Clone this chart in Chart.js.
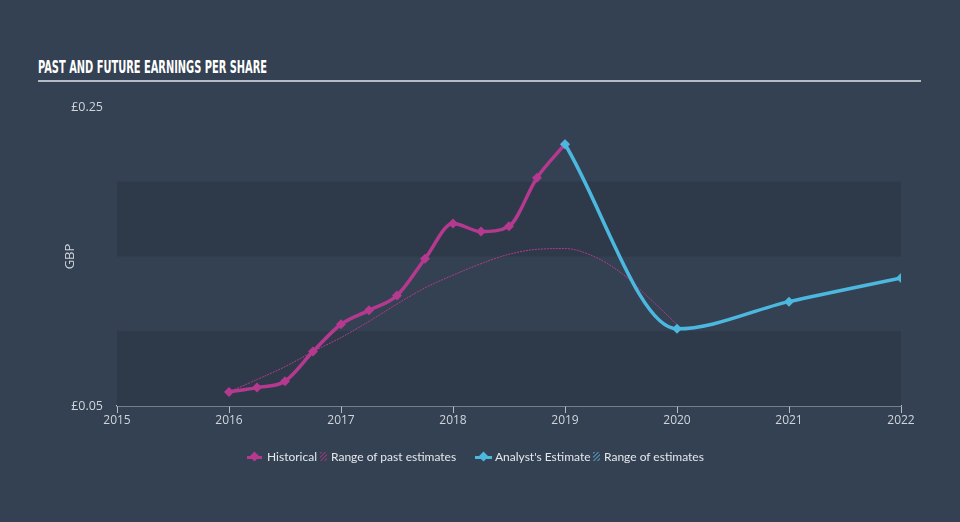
<!DOCTYPE html>
<html>
<head>
<meta charset="utf-8">
<script src="https://cdn.jsdelivr.net/npm/chart.js@4.4.0/dist/chart.umd.min.js"></script>
<style>
  body { margin: 0; background: #344152; width: 960px; height: 522px; overflow: hidden; position: relative; font-family: Lato, "Open Sans", sans-serif; }
  #title { position: absolute; left: 38px; top: 57px; color: #fff; font: bold 17px "Liberation Sans Narrow", "DejaVu Sans Condensed", sans-serif; white-space: nowrap; transform-origin: 0 0; }
  #rule { position: absolute; left: 38px; top: 80px; width: 883px; height: 2px; background: #b4bbc4; }
  #chart { position: absolute; left: 0; top: 0; }
  #legend { position: absolute; top: 449px; left: 0; width: 960px; font-size: 12px; color: #e4e8ec; }
  .item { position: absolute; top: 0; white-space: nowrap; line-height: 16px; }
  .icon { position: absolute; top: 0; height: 16px; }
  .icon .ln { position: absolute; left: 0; right: 0; top: 6.5px; height: 3px; }
  .icon .dm { position: absolute; left: 50%; top: 3.5px; width: 7px; height: 7px; margin-left: -3.5px; transform: rotate(45deg); }
  .hatch { position: absolute; top: 3px; width: 7px; height: 9px; }
</style>
</head>
<body>
<div id="title">PAST AND FUTURE EARNINGS PER SHARE</div>
<div id="rule"></div>
<canvas id="chart" width="960" height="522"></canvas>
<div id="legend">
  <div class="icon" style="left:247px;width:15px"><div class="ln" style="background:#b5398f"></div><div class="dm" style="background:#b5398f"></div></div>
  <div class="item" style="left:267px">Historical</div>
  <div class="hatch" style="left:320px;background:repeating-linear-gradient(135deg,#7a3a6e 0 1.5px,transparent 1.5px 3px)"></div>
  <div class="item" style="left:331px">Range of past estimates</div>
  <div class="icon" style="left:475px;width:17px"><div class="ln" style="background:#4cb8e0"></div><div class="dm" style="background:#4cb8e0"></div></div>
  <div class="item" style="left:495px">Analyst's Estimate</div>
  <div class="hatch" style="left:593px;background:repeating-linear-gradient(135deg,#4a7f9c 0 1.5px,transparent 1.5px 3px)"></div>
  <div class="item" style="left:604px">Range of estimates</div>
</div>
<script>
// values
const histYears = [2016, 2016.25, 2016.5, 2016.75, 2017, 2017.25, 2017.5, 2017.75, 2018, 2018.25, 2018.5, 2018.75, 2019]
const histEps = [0.0594, 0.0623, 0.0666, 0.0864, 0.1047, 0.114, 0.1239, 0.1485, 0.1721, 0.1667, 0.1703, 0.2027, 0.2251]

const pastEstYears = [2016, 2016.25, 2016.5, 2016.75, 2017, 2017.25, 2017.5, 2017.75, 2018, 2018.25, 2018.5, 2018.75, 2019, 2019.25, 2019.5, 2019.75, 2020]
const pastEst = [0.0594, 0.0677, 0.0763, 0.0864, 0.0958, 0.1066, 0.1182, 0.129, 0.1375, 0.1452, 0.1515, 0.1548, 0.1553, 0.1503, 0.1391, 0.1223, 0.1045]

const forecastYears = [2019, 2020, 2021, 2022]
const forecastEps = [0.2251, 0.1016, 0.1198, 0.1357]

const yTicks = [0.05, 0.25]
const darkBands = [[0.05, 0.10], [0.15, 0.20]]

const magenta = '#b5398f'
const cyan = '#4cb8e0'
const axisText = '#d0d5db'

// squeeze the title to the width it has in the picture
let title = document.querySelector('#title')
title.style.transform = 'scaleX(' + (229 / title.offsetWidth) + ')'

const toXY = (xs, ys) => xs.map((x, i) => ({ x: x, y: ys[i] }))

// darker horizontal bands behind the lines
const bands = {
  id: 'bands',
  beforeDatasetsDraw(chart) {
    let ctx = chart.ctx, area = chart.chartArea, y = chart.scales.y
    ctx.save()
    ctx.fillStyle = '#2e3a49'
    darkBands.forEach(b => {
      let top = y.getPixelForValue(b[1]), bot = y.getPixelForValue(b[0])
      ctx.fillRect(area.left, top, area.right - area.left, bot - top)
    })
    ctx.restore()
  }
}

Chart.defaults.font.family = '"Open Sans", Lato, sans-serif'

let chart = new Chart(document.querySelector('#chart'), {
  type: 'line',
  data: {
    datasets: [
      {
        label: 'Range of past estimates',
        data: toXY(pastEstYears, pastEst),
        borderColor: magenta,
        borderWidth: 1,
        borderDash: [2, 1],
        pointRadius: 0,
        cubicInterpolationMode: 'monotone',
        order: 3
      },
      {
        label: 'Historical',
        data: toXY(histYears, histEps),
        borderColor: magenta,
        backgroundColor: magenta,
        borderWidth: 3.5,
        pointStyle: 'rectRot',
        pointRadius: 5,
        pointBorderWidth: 0,
        cubicInterpolationMode: 'monotone',
        order: 2
      },
      {
        label: "Analyst's Estimate",
        data: toXY(forecastYears, forecastEps),
        borderColor: cyan,
        backgroundColor: cyan,
        borderWidth: 3.5,
        pointStyle: 'rectRot',
        pointRadius: 5,
        pointBorderWidth: 0,
        cubicInterpolationMode: 'monotone',
        order: 1
      }
    ]
  },
  options: {
    responsive: false,
    animation: false,
    devicePixelRatio: 1,
    layout: { padding: { left: 58, right: 59, top: 107, bottom: 86 } },
    plugins: { legend: { display: false }, tooltip: { enabled: false } },
    scales: {
      x: {
        type: 'linear',
        min: 2015,
        max: 2022,
        ticks: { stepSize: 1, color: axisText, font: { size: 12 }, padding: 0, callback: v => String(v) },
        grid: { drawOnChartArea: false, color: '#b4bbc4', tickLength: 7 },
        border: { color: '#b4bbc4', width: 1.5 },
        afterFit: s => { s.height = 30 }
      },
      y: {
        min: 0.05,
        max: 0.25,
        afterBuildTicks: s => { s.ticks = yTicks.map(v => ({ value: v })) },
        ticks: { color: axisText, font: { size: 12.5 }, padding: 6, callback: v => '£' + v.toFixed(2) },
        grid: { display: false },
        border: { display: false },
        title: { display: true, text: 'GBP', color: axisText, font: { size: 13 }, padding: { top: 4, bottom: 0 } },
        afterFit: s => { s.width = 59 }
      }
    }
  },
  plugins: [bands]
})
</script>
</body>
</html>
